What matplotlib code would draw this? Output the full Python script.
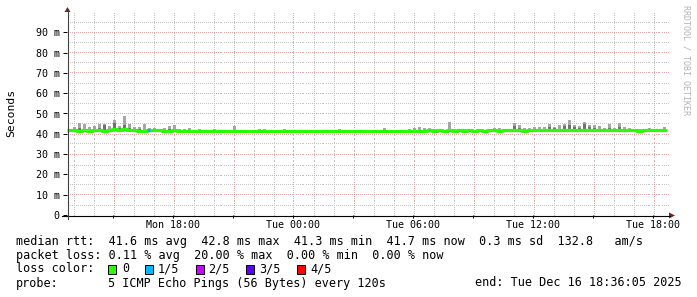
import numpy as np
import matplotlib
matplotlib.use("Agg")
import matplotlib.pyplot as plt
from matplotlib.lines import Line2D
from matplotlib.patches import Rectangle, Polygon
from matplotlib.transforms import Affine2D

# ------------------------------------------------------------------ data
start_hour = 12.68          # hours since Mon 00:00 at left edge of plot
step_hours = 0.25           # one column = 15 min

median_ms = [
    41.7, 41.8, 41.6, 41.9, 41.5, 41.8, 41.7, 41.5, 41.9, 42.2, 42.0, 42.4, 42.1, 41.8, 41.5, 41.6, 41.7, 41.8, 41.7, 41.6,
    41.6, 41.8, 41.5, 41.4, 41.3, 41.3, 41.4, 41.3, 41.3, 41.3, 41.4, 41.3, 41.3, 41.5, 41.3, 41.3, 41.3, 41.4, 41.3, 41.3,
    41.3, 41.3, 41.3, 41.4, 41.3, 41.3, 41.3, 41.3, 41.3, 41.3, 41.3, 41.3, 41.3, 41.3, 41.4, 41.3, 41.3, 41.3, 41.3, 41.3,
    41.3, 41.3, 41.3, 41.4, 41.3, 41.3, 41.3, 41.3, 41.4, 41.3, 41.4, 41.6, 41.7, 41.6, 41.7, 41.6, 41.7, 41.6, 41.7, 41.6,
    41.7, 41.6, 41.7, 41.6, 41.7, 41.8, 41.6, 41.7, 41.9, 42.0, 41.8, 41.6, 41.8, 41.9, 41.7, 41.8, 42.0, 41.9, 41.8, 42.0,
    42.1, 41.9, 41.8, 41.9, 42.0, 41.8, 41.7, 41.8, 41.9, 41.7, 41.8, 41.7, 41.8, 41.7, 41.6, 41.7, 41.8, 41.7, 41.7, 41.7,
]
smoke_max_ms = [
    42.5, 43.4, 45.4, 45.0, 43.5, 44.0, 45.0, 45.0, 44.0, 46.7, 44.0, 48.7, 45.0, 43.5, 43.5, 45.0, 43.0, 43.0, 42.5, 43.0,
    43.8, 44.3, 42.5, 42.5, 43.0, 42.0, 42.5, 42.0, 42.0, 42.5, 42.0, 42.0, 42.0, 43.6, 42.0, 42.0, 42.0, 42.0, 42.5, 42.5,
    42.0, 42.0, 42.0, 42.5, 42.0, 42.0, 42.0, 42.0, 42.0, 42.0, 42.0, 42.0, 42.0, 42.0, 42.5, 42.0, 42.0, 42.0, 42.0, 42.0,
    42.0, 42.0, 42.0, 43.0, 42.0, 42.0, 42.0, 42.0, 42.5, 43.0, 43.4, 43.0, 43.1, 42.5, 42.5, 42.0, 45.9, 42.5, 42.0, 42.5,
    42.0, 42.0, 42.5, 42.0, 42.0, 43.0, 43.0, 42.2, 42.5, 45.4, 44.3, 43.0, 43.0, 43.5, 43.4, 43.4, 44.6, 43.5, 44.3, 44.6,
    46.7, 44.3, 44.0, 45.7, 44.3, 44.3, 44.0, 43.0, 44.6, 43.0, 45.4, 43.5, 43.0, 42.5, 42.5, 42.2, 43.0, 42.5, 42.5, 43.5,
]
smoke_mid_ms = [
    41.0, 41.0, 43.1, 42.5, 41.0, 41.0, 42.8, 44.3, 41.0, 45.5, 43.0, 44.3, 43.0, 41.0, 42.5, 41.0, 41.0, 41.0, 41.0, 41.0,
    42.5, 41.0, 41.0, 41.0, 41.0, 41.0, 41.0, 41.0, 41.0, 41.0, 41.0, 41.0, 41.0, 41.0, 41.0, 41.0, 41.0, 41.0, 41.0, 41.0,
    41.0, 41.0, 41.0, 41.0, 41.0, 41.0, 41.0, 41.0, 41.0, 41.0, 41.0, 41.0, 41.0, 41.0, 41.0, 41.0, 41.0, 41.0, 41.0, 41.0,
    41.0, 41.0, 41.0, 41.0, 41.0, 41.0, 41.0, 41.0, 41.0, 41.0, 41.0, 41.0, 41.0, 41.0, 41.0, 41.0, 41.0, 41.0, 41.0, 41.0,
    41.0, 41.0, 41.0, 41.0, 41.0, 41.0, 41.0, 41.0, 41.0, 44.0, 42.8, 41.0, 41.0, 41.0, 41.0, 41.0, 43.2, 42.8, 41.0, 43.8,
    44.3, 43.5, 42.8, 45.0, 43.5, 43.0, 41.0, 41.0, 42.8, 41.0, 43.4, 41.0, 41.0, 41.0, 41.0, 41.0, 41.0, 41.0, 41.0, 41.0,
]
loss_fives = [0] * 16 + [1] + [0] * 103

y_ticks_ms = [0, 10, 20, 30, 40, 50, 60, 70, 80, 90]
y_tick_labels = ["0", "10 m", "20 m", "30 m", "40 m", "50 m", "60 m", "70 m", "80 m", "90 m"]
x_tick_hours = [18, 24, 30, 36, 42]
x_tick_labels = ["Mon 18:00", "Tue 00:00", "Tue 06:00", "Tue 12:00", "Tue 18:00"]

loss_colors = ["#26ff00", "#00b8ff", "#cc00ff", "#5e00ff", "#ff0000"]
loss_labels = ["0", "1/5", "2/5", "3/5", "4/5"]

legend_rtt = "median rtt:  41.6 ms avg  42.8 ms max  41.3 ms min  41.7 ms now  0.3 ms sd  132.8   am/s"
legend_loss = "packet loss: 0.11 % avg  20.00 % max  0.00 % min  0.00 % now"
legend_probe = "5 ICMP Echo Pings (56 Bytes) every 120s"
legend_end = "end: Tue Dec 16 18:36:05 2025"

# ------------------------------------------------------------------ figure
W, H = 697, 297
fig = plt.figure(figsize=(W / 100, H / 100), dpi=100)
fig.patch.set_facecolor("white")
PX = Affine2D().scale(1 / W, -1 / H).translate(0, 1) + fig.transFigure  # pixel coords, origin top-left

L, R, T, B = 67, 669, 12, 215
ax = fig.add_axes([L / W, 1 - B / H, (R - L) / W, (B - T) / H])
ax.set_xlim(start_hour, start_hour + (R - L) / 20.0)
ax.set_ylim(0, 100)
ax.set_facecolor("white")
for s in ax.spines.values():
    s.set_visible(False)

MONO = "DejaVu Sans Mono"

# dotted grid: single pixels every 2 px, placed through the axes transform
minor_c, major_c = "#c6c6c6", "#e6aaaa"
to_pix = ax.transData
to_data = ax.transData.inverted()
x0p, y0p = to_pix.transform((start_hour, 0))
x1p, y1p = to_pix.transform((start_hour + (R - L) / 20.0, 100))

def hdots(v, color, z):
    _, yp = to_pix.transform((start_hour, v))
    yp = np.floor(yp) + 0.5
    xp = np.arange(np.floor(x0p) + 0.5, x1p, 2.0)
    pts = to_data.transform(np.column_stack([xp, np.full_like(xp, yp)]))
    ax.plot(pts[:, 0], pts[:, 1], ls="none", marker="s", ms=0.72, mew=0, color=color, zorder=z,
            antialiased=False)

def vdots(h, color, z):
    xp, _ = to_pix.transform((h, 0))
    xp = np.floor(xp) + 0.5
    yp = np.arange(np.floor(y0p) + 0.5, y1p, 2.0)
    pts = to_data.transform(np.column_stack([np.full_like(yp, xp), yp]))
    ax.plot(pts[:, 0], pts[:, 1], ls="none", marker="s", ms=0.72, mew=0, color=color, zorder=z,
            antialiased=False)

for v in range(5, 100, 10):
    hdots(v, minor_c, 0)
for h in range(13, 43):
    if h % 3:
        vdots(h, minor_c, 0)
for v in range(10, 100, 10):
    hdots(v, major_c, 0.5)
for h in range(15, 43, 3):
    vdots(h, major_c, 0.5)

# smoke
n = len(median_ms)
t = start_hour + step_hours * np.arange(n)
med = np.array(median_ms)
top = np.array(smoke_max_ms)
mid = np.array(smoke_mid_ms)
bw = step_hours * 0.6
ax.bar(t + step_hours * 0.2, top - med, bottom=med, width=bw, align="edge", color="#a6a6a6", lw=0, zorder=2)
dm = np.clip(mid - med, 0, None)
ax.bar(t + step_hours * 0.2, dm, bottom=med, width=bw, align="edge", color="#707070", lw=0, zorder=2.5)

# median line
xs = np.append(t, t[-1] + step_hours)
ys = np.append(med, med[-1])
ax.step(xs, ys, where="post", color=loss_colors[0], lw=2.3, zorder=3, solid_capstyle="butt")
for i, lv in enumerate(loss_fives):
    if lv > 0:
        ax.plot([t[i], t[i] + step_hours * 0.6], [med[i], med[i]], color=loss_colors[lv], lw=2.3,
                zorder=3.5, solid_capstyle="butt")

# ticks & labels
ax.set_yticks(y_ticks_ms)
ax.set_yticklabels(y_tick_labels, fontfamily=MONO, fontsize=7.2)
ax.tick_params(axis="y", length=3.0, width=0.72, pad=2.2, colors="#000000", direction="out")
ax.set_xticks(list(range(15, 43, 3)))
ax.set_xticklabels([""] * len(range(15, 43, 3)))
ax.tick_params(axis="x", length=1.8, width=0.72, direction="out", pad=0)
for hh, lab in zip(x_tick_hours, x_tick_labels):
    ax.text(hh, -4.8, lab, ha="center", va="center", fontfamily=MONO, fontsize=7.2,
            clip_on=False)

# axes lines and arrows
fig.add_artist(Line2D([62, 670], [215.5, 215.5], color="#000000", lw=0.8, transform=PX))
fig.add_artist(Line2D([67.5, 67.5], [219, 10], color="#404040", lw=0.8, transform=PX))
fig.add_artist(Polygon([(64.5, 12), (70.5, 12), (67.5, 7)], closed=True, color="#8b1c1c", transform=PX, lw=0))
fig.add_artist(Polygon([(669, 212.5), (669, 218.5), (675, 215.5)], closed=True, color="#8b1c1c", transform=PX, lw=0))

# axis title & watermark
fig.text(11 / W, 1 - 113 / H, "Seconds", rotation=90, ha="center", va="center", fontfamily=MONO, fontsize=8.2)
fig.text(686 / W, 1 - 5 / H, "RRDTOOL / TOBI OETIKER", rotation=270, ha="center", va="top",
         fontfamily=MONO, fontsize=6.0, color="#b4b4b4")

# legend
LS = 8.5
def ptxt(x, y, s, **kw):
    fig.text(x / W, 1 - y / H, s, fontfamily=MONO, fontsize=LS, va="center", **kw)

ptxt(16, 241, legend_rtt)
ptxt(16, 255, legend_loss)
ptxt(16, 269, "loss color:")
box_x = [108, 145, 196, 246, 297]
lab_x = [122, 158, 208.5, 259, 310]
for bx, lx, c, lab in zip(box_x, lab_x, loss_colors, loss_labels):
    fig.add_artist(Rectangle((bx, 264.5), 8, 9, facecolor=c, edgecolor="#000000", lw=0.7, transform=PX))
    ptxt(lx, 269, lab)
ptxt(16, 283, "probe:")
ptxt(108, 283, legend_probe)
ptxt(682, 283, legend_end, ha="right")

fig.savefig("out.png", dpi=100, facecolor="white")
